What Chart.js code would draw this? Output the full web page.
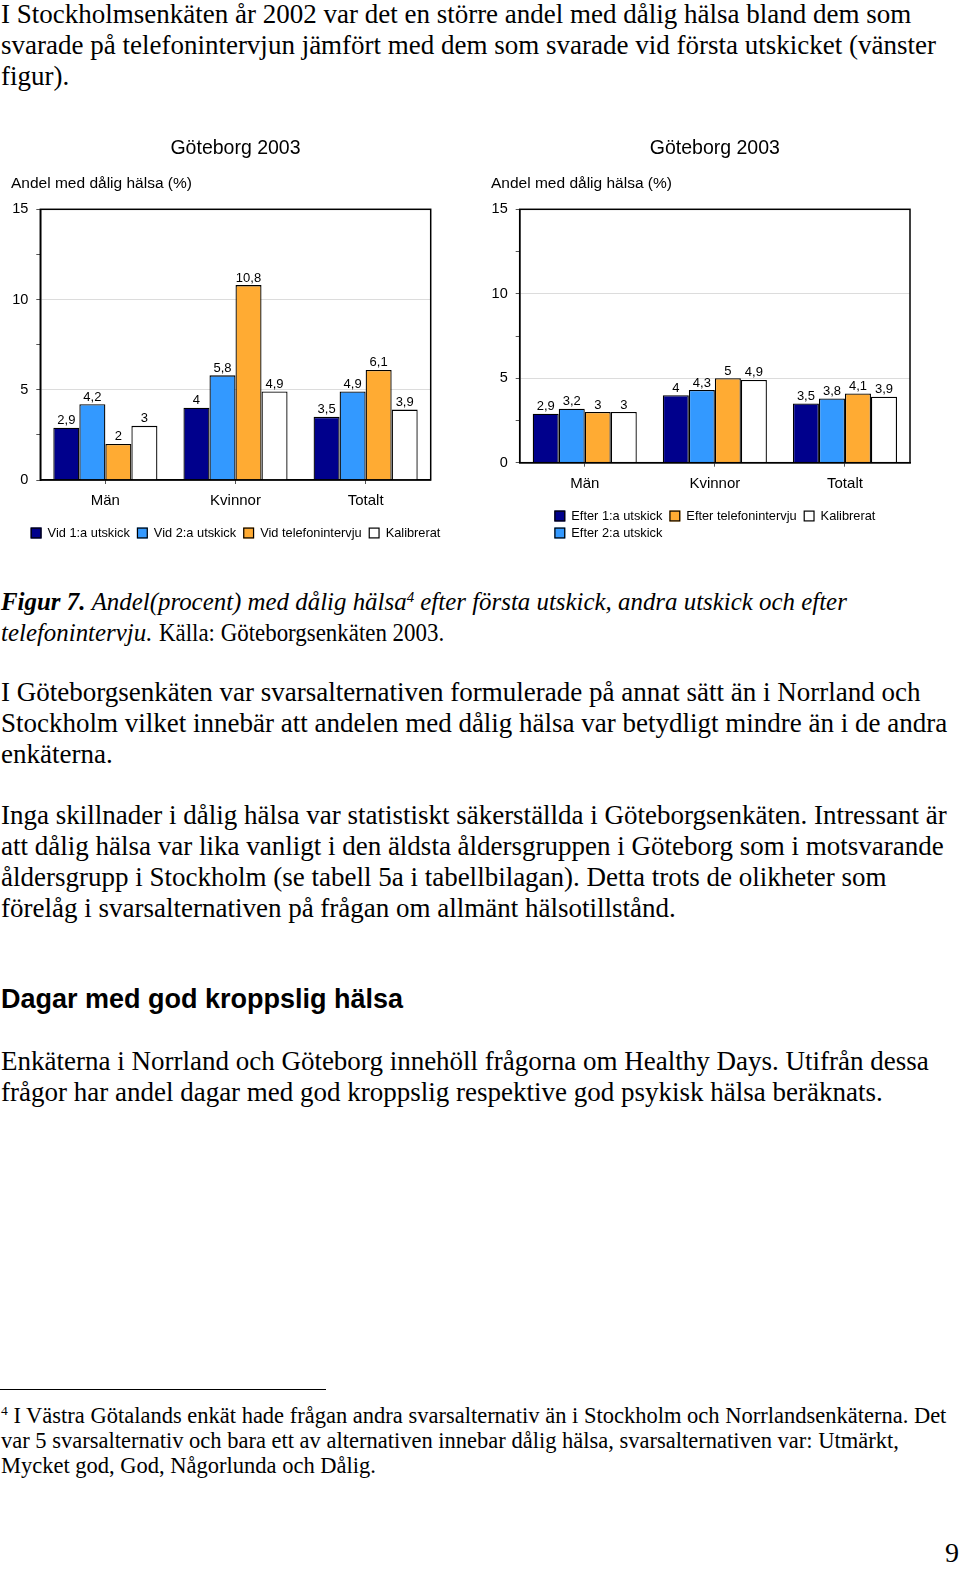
<!DOCTYPE html>
<html><head><meta charset="utf-8">
<script src="https://cdn.jsdelivr.net/npm/chart.js@4.4.1/dist/chart.umd.min.js"></script>
<style>
html,body{margin:0;padding:0;background:#fff}
body{width:960px;height:1587px;position:relative;overflow:hidden;color:#000;font-family:"Liberation Serif","Times New Roman",serif}
.p{position:absolute;left:1px;white-space:nowrap;font-size:27px;line-height:31px}
.cap{position:absolute;left:1px;white-space:nowrap;font-size:24.9px;line-height:30.3px}
.fn{position:absolute;left:1px;white-space:nowrap;font-size:22.5px;line-height:25px}
.h{position:absolute;left:1px;white-space:nowrap;font-family:"Liberation Sans",Arial,sans-serif;font-weight:bold;font-size:27px;line-height:30px}
.sup{font-size:60%;position:relative;top:-0.55em;line-height:0}
.cond{display:inline-block;transform:scaleX(0.92);transform-origin:0 50%}
.cw{position:absolute;top:130px;width:480px;height:420px}
</style></head><body>

<div class="p" style="top:-0.6px">I Stockholmsenkäten år 2002 var det en större andel med dålig hälsa bland dem som<br>svarade på telefonintervjun jämfört med dem som svarade vid första utskicket (vänster<br>figur).</div>

<div class="cw" style="left:0"><canvas id="c1" width="480" height="420"></canvas></div>
<div class="cw" style="left:480px"><canvas id="c2" width="480" height="420"></canvas></div>

<div class="cap" style="top:587.4px"><b><i>Figur 7.</i></b> <i>Andel(procent) med dålig hälsa<span class="sup">4</span> efter första utskick, andra utskick och efter</i><br><i>telefonintervju.</i> <span class="cond">Källa: Göteborgsenkäten 2003.</span></div>

<div class="p" style="top:676.5px">I Göteborgsenkäten var svarsalternativen formulerade på annat sätt än i Norrland och<br>Stockholm vilket innebär att andelen med dålig hälsa var betydligt mindre än i de andra<br>enkäterna.</div>

<div class="p" style="top:800px">Inga skillnader i dålig hälsa var statistiskt säkerställda i Göteborgsenkäten. Intressant är<br>att dålig hälsa var lika vanligt i den äldsta åldersgruppen i Göteborg som i motsvarande<br>åldersgrupp i Stockholm (se tabell 5a i tabellbilagan). Detta trots de olikheter som<br>förelåg i svarsalternativen på frågan om allmänt hälsotillstånd.</div>

<div class="h" style="top:984.3px">Dagar med god kroppslig hälsa</div>

<div class="p" style="top:1045.5px">Enkäterna i Norrland och Göteborg innehöll frågorna om Healthy Days. Utifrån dessa<br>frågor har andel dagar med god kroppslig respektive god psykisk hälsa beräknats.</div>

<div style="position:absolute;left:0;top:1388.5px;width:326px;height:1.6px;background:#000"></div>

<div class="fn" style="top:1402.6px"><span class="sup">4</span> I Västra Götalands enkät hade frågan andra svarsalternativ än i Stockholm och Norrlandsenkäterna. Det<br>var 5 svarsalternativ och bara ett av alternativen innebar dålig hälsa, svarsalternativen var: Utmärkt,<br>Mycket god, God, Någorlunda och Dålig.</div>

<div style="position:absolute;right:1px;top:1538px;font-size:28px;line-height:30px">9</div>

<script>
// ---- data ----
const categories = ['Män', 'Kvinnor', 'Totalt'];
const chartTitle = 'Göteborg 2003';
const yAxisTitle = 'Andel med dålig hälsa (%)';
const yMin = 0, yMax = 15;
const yLabelStep = 5;

const leftNames = ['Vid 1:a utskick', 'Vid 2:a utskick', 'Vid telefonintervju', 'Kalibrerat'];
const leftVid1 = [2.9, 4, 3.5];
const leftVid2 = [4.2, 5.8, 4.9];
const leftTelefon = [2, 10.8, 6.1];
const leftKalibrerat = [3, 4.9, 3.9];

const rightNames = ['Efter 1:a utskick', 'Efter 2:a utskick', 'Efter telefonintervju', 'Kalibrerat'];
const rightEfter1 = [2.9, 4, 3.5];
const rightEfter2 = [3.2, 4.3, 3.8];
const rightTelefon = [3, 5, 4.1];
const rightKalibrerat = [3, 4.9, 3.9];

const seriesColors = ['#00008c', '#3399ff', '#ffab33', '#ffffff'];

// ---- rendering ----
const FAMILY = '"Liberation Sans", Arial, sans-serif';
Chart.defaults.font.family = FAMILY;
Chart.defaults.color = '#000';

const fmt = v => String(v).replace('.', ',');

const valueLabels = {
  id: 'valueLabels',
  afterDatasetsDraw(chart) {
    const ctx = chart.ctx;
    ctx.save();
    ctx.font = '13px ' + FAMILY;
    ctx.fillStyle = '#000';
    ctx.textAlign = 'center';
    ctx.textBaseline = 'alphabetic';
    chart.data.datasets.forEach((d, i) => {
      chart.getDatasetMeta(i).data.forEach((el, j) => {
        ctx.fillText(fmt(d.data[j]), el.x, el.y - 3.5);
      });
    });
    ctx.restore();
  }
};

const frame = {
  id: 'frame',
  afterDatasetsDraw(chart) {
    const ca = chart.chartArea, ctx = chart.ctx;
    ctx.save();
    ctx.strokeStyle = '#000';
    ctx.lineWidth = 1.5;
    ctx.strokeRect(ca.left, ca.top, ca.right - ca.left, ca.bottom - ca.top);
    ctx.restore();
  }
};

const boxLegend = {
  id: 'boxLegend',
  afterDraw(chart, args, opts) {
    const ctx = chart.ctx, ca = chart.chartArea, ds = chart.data.datasets;
    ctx.save();
    ctx.font = opts.fontSize + 'px ' + FAMILY;
    const colW = opts.columns.map(col => Math.max(...col.map(i => opts.box + opts.gap + ctx.measureText(ds[i].label).width)));
    const total = colW.reduce((a, b) => a + b, 0) + opts.spacing * (colW.length - 1);
    let x = (ca.left + ca.right) / 2 - total / 2;
    opts.columns.forEach((col, c) => {
      col.forEach((i, r) => {
        const y = ca.bottom + opts.offset + r * opts.rowGap;
        ctx.fillStyle = ds[i].backgroundColor;
        ctx.fillRect(x, y - opts.box / 2, opts.box, opts.box);
        ctx.strokeStyle = '#000';
        ctx.lineWidth = 1.2;
        ctx.strokeRect(x + 0.6, y - opts.box / 2 + 0.6, opts.box - 1.2, opts.box - 1.2);
        ctx.fillStyle = '#000';
        ctx.textAlign = 'left';
        ctx.textBaseline = 'middle';
        ctx.fillText(ds[i].label, x + opts.box + opts.gap, y + 0.5);
      });
      x += colW[c] + opts.spacing;
    });
    ctx.restore();
  }
};

function makeChart(id, names, series, cfg) {
  const datasets = names.map((n, i) => ({
    label: n,
    data: series[i],
    backgroundColor: seriesColors[i],
    borderColor: '#000',
    borderWidth: 1.3,
    barPercentage: 1,
    categoryPercentage: 0.8
  }));
  return new Chart(document.getElementById(id), {
    type: 'bar',
    data: { labels: categories, datasets },
    plugins: [valueLabels, frame, boxLegend],
    options: {
      responsive: false,
      animation: false,
      devicePixelRatio: 1,
      layout: { padding: { left: 11, right: cfg.padRight, top: 0, bottom: cfg.padBottom } },
      plugins: {
        legend: { display: false },
        tooltip: { enabled: false },
        title: {
          display: true, text: chartTitle, fullSize: false,
          font: { size: 19.5, weight: 'normal' }, color: '#000',
          padding: { top: 7.1, bottom: 0 }
        },
        subtitle: {
          display: true, text: yAxisTitle, align: 'start', fullSize: true,
          font: { size: 15.5, weight: 'normal' }, color: '#000',
          padding: { top: 13.7, bottom: 16.5 }
        },
        boxLegend: {
          columns: cfg.legendColumns, box: 11, gap: 6, spacing: 7,
          fontSize: 12.8, offset: cfg.legendOffset, rowGap: 17
        }
      },
      scales: {
        x: {
          type: 'category',
          offset: true,
          afterFit(s) { s.height = 30; },
          grid: { offset: false, drawOnChartArea: false, drawTicks: true, tickLength: 4, tickColor: '#555' },
          border: { display: true, color: '#000', width: 1.5 },
          ticks: { font: { size: 15 }, color: '#000', padding: 8, maxRotation: 0 }
        },
        y: {
          min: yMin, max: yMax,
          afterFit(s) { s.width = cfg.yWidth; },
          grid: {
            color: c => (c.tick && c.tick.value > yMin && c.tick.value < yMax && c.tick.value % yLabelStep === 0) ? '#dcdcdc' : 'rgba(0,0,0,0)',
            tickColor: '#555', tickLength: 4, drawTicks: true, lineWidth: 1
          },
          border: { display: true, color: '#000', width: 1.5 },
          ticks: {
            stepSize: 2.5,
            font: { size: 14.5 }, color: '#000', padding: 8,
            callback: v => (v % yLabelStep === 0 ? String(v) : '')
          }
        }
      }
    }
  });
}

makeChart('c1', leftNames, [leftVid1, leftVid2, leftTelefon, leftKalibrerat],
  { padRight: 49.3, padBottom: 40, yWidth: 29.3, legendOffset: 53, legendColumns: [[0], [1], [2], [3]] });
makeChart('c2', rightNames, [rightEfter1, rightEfter2, rightTelefon, rightKalibrerat],
  { padRight: 50, padBottom: 57.3, yWidth: 28.7, legendOffset: 53.3, legendColumns: [[0, 1], [2], [3]] });
</script>
</body></html>
